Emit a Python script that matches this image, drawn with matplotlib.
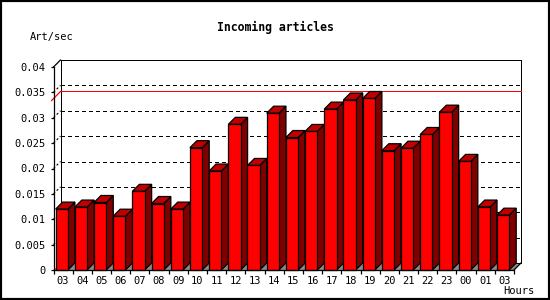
import matplotlib
matplotlib.use("Agg")
import matplotlib.pyplot as plt
import matplotlib.patches as patches
import matplotlib.transforms as transforms
import numpy as np

# hourly article rate
hours = ["03", "04", "05", "06", "07", "08", "09", "10", "11", "12", "13", "14",
         "15", "16", "17", "18", "19", "20", "21", "22", "23", "00", "01", "03"]
rates = [0.0120, 0.0124, 0.0133, 0.0106, 0.0155, 0.0131, 0.0120, 0.0241,
         0.0195, 0.0287, 0.0206, 0.0309, 0.0261, 0.0273, 0.0317, 0.0335,
         0.0338, 0.0235, 0.0240, 0.0267, 0.0311, 0.0214, 0.0124, 0.0108]
y_ticks = [0, 0.005, 0.01, 0.015, 0.02, 0.025, 0.03, 0.035, 0.04]
y_labels = ["0", "0.005", "0.01", "0.015", "0.02", "0.025", "0.03", "0.035", "0.04"]

W, H, DPI = 550, 300, 100
plt.rcParams['font.family'] = ['DejaVu Sans Mono']

fig = plt.figure(figsize=(W / DPI, H / DPI), dpi=DPI)
fig.patch.set_facecolor('white')
ax = fig.add_axes([53.5 / W, 30 / H, 460.5 / W, 203 / H])
n = len(hours)
ax.set_xlim(-0.5, n - 0.5)
ax.set_ylim(y_ticks[0], y_ticks[-1])
ax.patch.set_visible(False)

# 3d depth: 7 px right and up
depth = 7
pos = ax.get_position()
dx = depth / (pos.width * W / n)
dy = depth / (pos.height * H) * (y_ticks[-1] - y_ticks[0])
back = ax.transData + transforms.ScaledTranslation(depth / DPI, depth / DPI, fig.dpi_scale_trans)
lw = 0.9
px1 = 0.72  # one pixel in points
x_lo, x_hi = -0.5, n - 0.5

# floor
floor = patches.Polygon([(x_lo, 0), (x_hi, 0), (x_hi + dx, dy), (x_lo + dx, dy)],
                        closed=True, fc='#8a8a8a', ec='none', zorder=1, clip_on=False)
ax.add_patch(floor)

# back wall frame
ax.plot([x_lo, x_lo, x_hi, x_hi, x_lo], [0, y_ticks[-1], y_ticks[-1], 0, 0],
        transform=back, color='black', lw=px1, clip_on=False, zorder=1.2,
        antialiased=False)
ax.plot([x_lo, x_lo + dx], [y_ticks[-1], y_ticks[-1] + dy], color='black', lw=lw, clip_on=False)
ax.plot([x_hi, x_hi + dx], [0, dy], color='black', lw=lw, clip_on=False, zorder=1.2)

# dotted grid on back wall plus side stubs
for v in y_ticks[1:-1]:
    ax.plot([x_lo, x_hi], [v, v], transform=back, color='black', lw=px1,
            ls=(0, (3, 3)), clip_on=False, zorder=1.5, antialiased=False)
    ax.plot([x_lo, x_lo + dx], [v, v + dy], color='black', lw=0.8,
            ls=(0, (2, 2)), clip_on=False, zorder=1.5)

# peak line
peak = max(rates)
ax.plot([x_lo, x_hi], [peak, peak], transform=back, color='#ff0000', lw=px1,
        clip_on=False, zorder=1.6, antialiased=False)
ax.plot([x_lo - 0.1, x_lo + dx], [peak - dy * 0.3, peak + dy], color='#ff0000', lw=lw,
        clip_on=False, zorder=1.6)

# bars
gap, bar_w = 0.11, 0.64
for i, v in enumerate(rates):
    x0 = i - 0.5 + gap
    x1 = x0 + bar_w
    z = 3 + i * 0.01
    ax.add_patch(patches.Polygon([(x1, 0), (x1, v), (x1 + dx, v + dy), (x1 + dx, dy)],
                                 closed=True, fc='#800000', ec='black', lw=lw,
                                 zorder=z, clip_on=False))
    ax.add_patch(patches.Polygon([(x0, v), (x1, v), (x1 + dx, v + dy), (x0 + dx, v + dy)],
                                 closed=True, fc='#c00000', ec='black', lw=lw,
                                 zorder=z, clip_on=False))
    ax.add_patch(patches.Rectangle((x0, 0), bar_w, v, fc='#ff0000', ec='black', lw=lw,
                                   zorder=z, clip_on=False))

for s in ['top', 'right']:
    ax.spines[s].set_visible(False)
for s in ['left', 'bottom']:
    ax.spines[s].set_linewidth(lw)
    ax.spines[s].set_zorder(5)

ax.set_xticks(np.arange(x_lo, x_hi + 0.5, 1))
ax.set_xticklabels([])
ax.set_xticks(np.arange(n), hours, minor=True)
ax.tick_params(axis='x', which='major', length=3, width=lw, direction='out')
ax.tick_params(axis='x', which='minor', length=0, pad=4, labelsize=7.5)
ax.set_yticks(y_ticks, y_labels)
ax.tick_params(axis='y', length=2.5, width=lw, pad=3.5, labelsize=7.5)

fig.text(275 / W, 1 - 27 / H, "Incoming articles", ha='center', va='center',
         fontsize=8.3, fontweight='bold')
fig.text(30 / W, 1 - 37 / H, "Art/sec", ha='left', va='center', fontsize=7.5)
fig.text(519 / W, 1 - 291 / H, "Hours", ha='center', va='center', fontsize=7.5)

fig.add_artist(patches.Rectangle((0, 0), 1, 1, transform=fig.transFigure, fill=False,
                                 ec='black', lw=3))

fig.savefig("out.png", dpi=DPI)
